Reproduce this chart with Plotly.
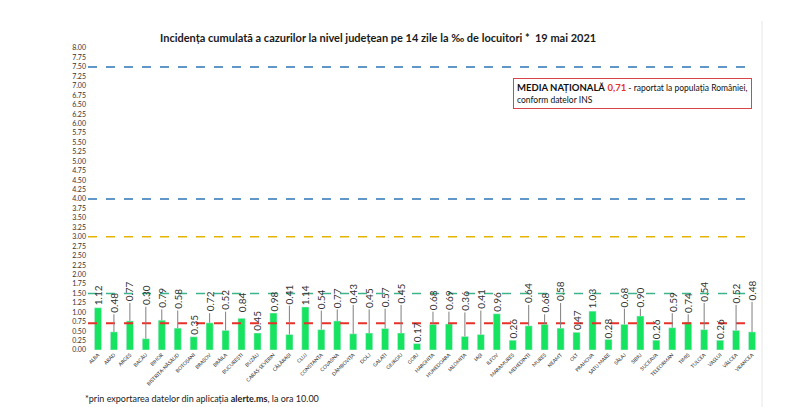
import plotly.graph_objects as go

counties = ["ALBA", "ARAD", "ARGEȘ", "BACĂU", "BIHOR", "BISTRIȚA-NĂSĂUD", "BOTOȘANI", "BRAȘOV",
            "BRĂILA", "BUCUREȘTI", "BUZĂU", "CARAȘ-SEVERIN", "CĂLĂRAȘI", "CLUJ", "CONSTANȚA",
            "COVASNA", "DÂMBOVIȚA", "DOLJ", "GALAȚI", "GIURGIU", "GORJ", "HARGHITA", "HUNEDOARA",
            "IALOMIȚA", "IAȘI", "ILFOV", "MARAMUREȘ", "MEHEDINȚI", "MUREȘ", "NEAMȚ", "OLT",
            "PRAHOVA", "SATU MARE", "SĂLAJ", "SIBIU", "SUCEAVA", "TELEORMAN", "TIMIȘ", "TULCEA",
            "VASLUI", "VÂLCEA", "VRANCEA"]
incidence = [1.12, 0.48, 0.77, 0.30, 0.79, 0.58, 0.35, 0.72, 0.52, 0.84, 0.45, 0.98, 0.41, 1.14,
             0.54, 0.77, 0.43, 0.45, 0.57, 0.45, 0.17, 0.68, 0.69, 0.36, 0.41, 0.96, 0.26, 0.64,
             0.68, 0.58, 0.47, 1.03, 0.28, 0.68, 0.90, 0.26, 0.59, 0.74, 0.54, 0.26, 0.52, 0.48]
national_avg = 0.71
threshold_levels = [7.5, 4.0, 3.0, 1.5]
threshold_colors = ["#2E75B6", "#2E75B6", "#E6B400", "#3DB58A"]

# vertical level (axis units) of the centre of each rotated value label
label_level = [1.45, 1.25, 1.55, 1.45, 1.38, 1.35, 0.66, 1.28, 1.32, 1.25, 0.76, 1.30, 1.48, 1.46,
               1.35, 1.38, 1.50, 1.38, 1.40, 1.50, 0.47, 1.32, 1.32, 1.30, 1.35, 1.27, 0.56, 1.50,
               1.25, 1.55, 0.78, 1.35, 0.58, 1.40, 1.40, 0.56, 1.28, 1.25, 1.55, 0.56, 1.50, 1.58]

y_ticks = [i * 0.25 for i in range(33)]
y_tick_text = [f"{v:.2f}" for v in y_ticks]

PX_PER_UNIT = 302 / 8.0

fig = go.Figure()
fig.add_trace(go.Bar(x=counties, y=incidence, marker_color="#16E360", width=0.45,
                     hoverinfo="x+y"))

shapes = []
for lvl, col in zip(threshold_levels, threshold_colors):
    shapes.append(dict(type="line", xref="paper", yref="y", x0=-0.003, x1=0.99, y0=lvl, y1=lvl,
                       line=dict(color=col, width=1.5, dash="dash")))
shapes.append(dict(type="line", xref="paper", yref="y", x0=-0.003, x1=0.99, y0=national_avg,
                   y1=national_avg, line=dict(color="#E8302A", width=2, dash="dash")))
# light page edge on the right
shapes.append(dict(type="line", xref="paper", yref="paper", x0=1.003, x1=1.003, y0=-0.2, y1=1.09,
                   line=dict(color="#E6E6E6", width=1)))

annotations = []
for c, v, lv in zip(counties, incidence, label_level):
    txt = f"{v:.2f}"
    gap = (lv - v) * PX_PER_UNIT - 11
    if gap > 6:
        annotations.append(dict(x=c, y=v, xref="x", yref="y", text=txt, textangle=-90,
                                showarrow=True, ax=0, ayref="y", ay=lv, arrowhead=0,
                                arrowwidth=1, arrowcolor="#7F7F7F", standoff=0,
                                font=dict(family="Lato", size=10, color="#333333")))
    else:
        annotations.append(dict(x=c, y=lv, xref="x", yref="y", text=txt, textangle=-90,
                                showarrow=False, yanchor="middle",
                                font=dict(family="Lato", size=10, color="#333333")))

annotations.append(dict(x=0.43, y=1.035, xref="paper", yref="paper", xanchor="center",
                        yanchor="middle", showarrow=False,
                        text="<b>Incidența cumulată a cazurilor la nivel județean pe 14 zile la ‰ de locuitori *  19 mai 2021</b>",
                        font=dict(family="Lato", size=11, color="#1A1A1A")))
annotations.append(dict(x=0.632, y=0.85, xref="paper", yref="paper", xanchor="left",
                        yanchor="middle", showarrow=False, align="left",
                        text="<b>MEDIA NAȚIONALĂ</b> <b><span style='color:#E8302A'>0,71</span></b>"
                             "<span style='font-size:8.5px'> - raportat la populația României,</span><br>"
                             "<span style='font-size:8.5px'>conform datelor INS</span>",
                        bordercolor="#D9434A", borderwidth=1, borderpad=3, bgcolor="white",
                        font=dict(family="Lato", size=9.5, color="#111111")))
annotations.append(dict(x=-0.01, y=-0.16, xref="paper", yref="paper", xanchor="left",
                        yanchor="middle", showarrow=False,
                        text="*prin exportarea datelor din aplicația <b>alerte.ms</b>, la ora 10.00",
                        font=dict(family="Lato", size=9, color="#222222")))

fig.update_layout(
    width=792, height=399,
    margin=dict(l=82, r=40, t=40, b=57),
    paper_bgcolor="white", plot_bgcolor="white",
    showlegend=False, bargap=0.5,
    shapes=shapes, annotations=annotations,
    xaxis=dict(tickangle=-45, tickfont=dict(family="Lato", size=5, color="#333333"),
               showgrid=False, showline=False, ticks="", range=[-0.5, len(counties) - 0.5]),
    yaxis=dict(range=[0, 8], tickvals=y_ticks, ticktext=y_tick_text, showgrid=False,
               zeroline=False, showline=False, ticks="", ticklabelstandoff=3,
               tickfont=dict(family="Lato", size=7, color="#333333")),
)

fig.write_html("out.html")
